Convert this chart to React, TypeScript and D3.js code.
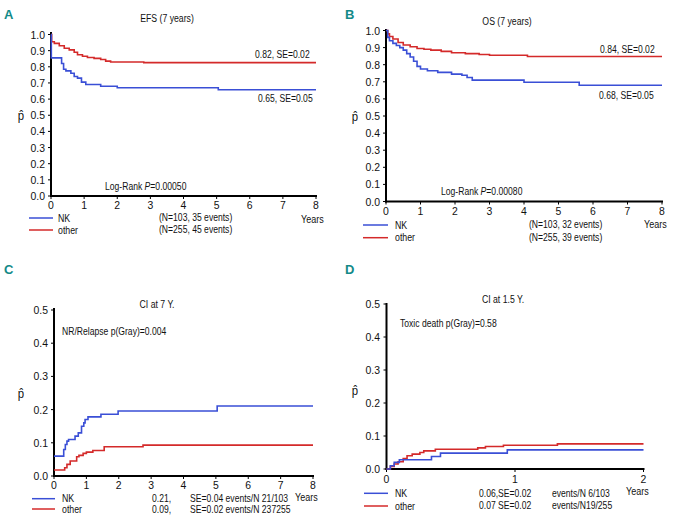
import React from "react";
import * as d3 from "d3";

// ---------- data ----------
const A_NK_t = [0, 0.01, 0.32, 0.38, 0.45, 0.6, 0.7, 0.8, 0.92, 1.05, 1.5, 2.0, 5.05, 8];
const A_NK_v = [1.0, 0.855, 0.82, 0.785, 0.775, 0.76, 0.74, 0.73, 0.705, 0.69, 0.68, 0.67, 0.658, 0.658];
const A_OT_t = [0, 0.02, 0.1, 0.25, 0.4, 0.55, 0.7, 0.8, 0.95, 1.1, 1.3, 1.5, 1.65, 1.8, 2.8, 8];
const A_OT_v = [1.0, 0.955, 0.945, 0.93, 0.915, 0.905, 0.89, 0.875, 0.865, 0.858, 0.852, 0.845, 0.835, 0.83, 0.826, 0.826];

const B_NK_t = [0, 0.05, 0.1, 0.2, 0.3, 0.4, 0.5, 0.6, 0.7, 0.8, 0.9, 1.0, 1.2, 1.5, 1.9, 2.2, 2.35, 2.5, 4.0, 5.6, 8];
const B_NK_v = [1, 0.96, 0.94, 0.925, 0.912, 0.9, 0.885, 0.865, 0.845, 0.82, 0.79, 0.775, 0.765, 0.755, 0.745, 0.738, 0.725, 0.71, 0.697, 0.68, 0.68];
const B_OT_t = [0, 0.05, 0.1, 0.2, 0.35, 0.5, 0.7, 0.9, 1.1, 1.3, 1.6, 1.9, 2.3, 2.7, 3.0, 4.1, 8];
const B_OT_v = [1, 0.98, 0.965, 0.95, 0.93, 0.915, 0.905, 0.895, 0.89, 0.885, 0.878, 0.87, 0.865, 0.86, 0.855, 0.848, 0.848];

const C_NK_t = [0, 0.3, 0.35, 0.4, 0.45, 0.65, 0.75, 0.85, 0.92, 0.96, 1.05, 1.45, 1.98, 5.04, 8];
const C_NK_v = [0.06, 0.08, 0.095, 0.105, 0.11, 0.12, 0.13, 0.15, 0.16, 0.17, 0.178, 0.186, 0.196, 0.211, 0.211];
const C_OT_t = [0, 0.33, 0.4, 0.5, 0.7, 0.77, 0.9, 1.0, 1.2, 1.55, 2.75, 8];
const C_OT_v = [0.018, 0.025, 0.035, 0.045, 0.058, 0.062, 0.068, 0.072, 0.077, 0.088, 0.093, 0.093];

const D_NK_t = [0, 0.03, 0.06, 0.1, 0.35, 0.42, 0.94, 2];
const D_NK_v = [0, 0.01, 0.02, 0.028, 0.038, 0.048, 0.058, 0.058];
const D_OT_t = [0, 0.03, 0.06, 0.09, 0.13, 0.16, 0.2, 0.26, 0.29, 0.38, 0.71, 0.77, 0.91, 1.33, 2];
const D_OT_v = [0, 0.008, 0.015, 0.022, 0.032, 0.04, 0.045, 0.05, 0.055, 0.06, 0.064, 0.068, 0.072, 0.076, 0.076];

const yTicks10 = [0, 0.1, 0.2, 0.3, 0.4, 0.5, 0.6, 0.7, 0.8, 0.9, 1.0];
const yTicks05 = [0, 0.1, 0.2, 0.3, 0.4, 0.5];
const xTicks8 = [0, 1, 2, 3, 4, 5, 6, 7, 8];
const xTicks2 = [0, 1, 2];

const BLUE = "#3a4fd6";
const RED = "#d42a2a";
const TEAL = "#138a88";
const FONT = "'Liberation Sans', Arial, sans-serif";

function T({
  x, y, sx = 0.86, size = 10, anchor = "start", children,
}: { x: number; y: number; sx?: number; size?: number; anchor?: string; children?: React.ReactNode }) {
  return (
    <text transform={`translate(${x},${y}) scale(${sx},1)`} fontSize={size} textAnchor={anchor as any} fontFamily={FONT} fill="#111">
      {children}
    </text>
  );
}

type PanelProps = {
  letter: string;
  letterX: number;
  letterY: number;
  xDom: number;
  xr: [number, number];
  yr: [number, number];
  yDom: number;
  yTicks: number[];
  xTicks: number[];
  axisTop: number;
  xLabelY: number;
  yLabelRight: number;
  nk: [number[], number[]];
  ot: [number[], number[]];
  title: string;
  titleX: number;
  titleY: number;
  phatX: number;
  phatY: number;
  yearsX: number;
  yearsY: number;
  children?: React.ReactNode;
};

function Panel(p: PanelProps) {
  const x = d3.scaleLinear().domain([0, p.xDom]).range(p.xr);
  const y = d3.scaleLinear().domain([0, p.yDom]).range(p.yr);
  const line = d3
    .line<[number, number]>()
    .x((d) => x(d[0]))
    .y((d) => y(d[1]))
    .curve(d3.curveStepAfter);
  const pts = (s: [number[], number[]]) => s[0].map((t, i) => [t, s[1][i]] as [number, number]);
  return (
    <g>
      <text x={p.letterX} y={p.letterY} fill={TEAL} fontWeight="bold" fontSize={13} fontFamily={FONT}>
        {p.letter}
      </text>
      <T x={p.titleX} y={p.titleY} anchor="middle" sx={0.87}>
        {p.title}
      </T>
      {/* y axis */}
      <line x1={p.xr[0]} x2={p.xr[0]} y1={p.axisTop} y2={p.yr[0] + 1} stroke="#000" strokeWidth={2} />
      {p.yTicks.map((t) => (
        <g key={"y" + t}>
          <line x1={p.xr[0] - 3} x2={p.xr[0]} y1={y(t)} y2={y(t)} stroke="#000" strokeWidth={1} />
          <T x={p.yLabelRight} y={y(t) + 4} anchor="end" size={11} sx={0.95}>
            {t.toFixed(1)}
          </T>
        </g>
      ))}
      {/* x axis */}
      <line x1={p.xr[0] - 1} x2={p.xr[1] + 1} y1={p.yr[0]} y2={p.yr[0]} stroke="#000" strokeWidth={2} />
      {p.xTicks.map((t) => (
        <g key={"x" + t}>
          <line x1={x(t)} x2={x(t)} y1={p.yr[0]} y2={p.yr[0] + 3} stroke="#000" strokeWidth={1} />
          <T x={x(t)} y={p.xLabelY} anchor="middle" size={11} sx={0.95}>
            {t}
          </T>
        </g>
      ))}
      <T x={p.yearsX} y={p.yearsY} size={11} sx={0.82}>
        Years
      </T>
      <T x={p.phatX} y={p.phatY} size={12} sx={0.95} anchor="middle">
        p̂
      </T>
      <path d={line(pts(p.ot)) || ""} fill="none" stroke={RED} strokeWidth={1.6} />
      <path d={line(pts(p.nk)) || ""} fill="none" stroke={BLUE} strokeWidth={1.6} />
      {p.children}
    </g>
  );
}

function Legend({ x1, x2, yNK, yOT, tx }: { x1: number; x2: number; yNK: number; yOT: number; tx: number }) {
  return (
    <g>
      <line x1={x1} x2={x2} y1={yNK} y2={yNK} stroke={BLUE} strokeWidth={1.5} />
      <line x1={x1} x2={x2} y1={yOT} y2={yOT} stroke={RED} strokeWidth={1.5} />
      <T x={tx} y={yNK + 3.5} sx={0.88}>NK</T>
      <T x={tx} y={yOT + 3.5} sx={0.88}>other</T>
    </g>
  );
}

export default function App() {
  return (
    <svg width={673} height={519} style={{ position: "absolute", left: 0, top: 0, background: "#fff" }}>
      <rect width={673} height={519} fill="#fff" />
      {/* Panel A */}
      <Panel
        letter="A" letterX={4} letterY={19}
        xDom={8} xr={[51, 316]} yr={[196, 34.5]} yDom={1} yTicks={yTicks10} xTicks={xTicks8}
        axisTop={32} xLabelY={209} yLabelRight={45}
        nk={[A_NK_t, A_NK_v]} ot={[A_OT_t, A_OT_v]}
        title="EFS (7 years)" titleX={167} titleY={22}
        phatX={21} phatY={120} yearsX={301} yearsY={223}
      >
        <T x={255} y={58}>0.82, SE=0.02</T>
        <T x={258} y={101.5}>0.65, SE=0.05</T>
        <T x={105} y={190}>Log-Rank <tspan fontStyle="italic">P</tspan>=0.00050</T>
        <T x={159} y={221}>(N=103, 35 events)</T>
        <T x={159} y={233}>(N=255, 45 events)</T>
      </Panel>
      <Legend x1={29} x2={53} yNK={218} yOT={230} tx={58} />

      {/* Panel B */}
      <Panel
        letter="B" letterX={345} letterY={19}
        xDom={8} xr={[386, 662]} yr={[201.5, 30.5]} yDom={1} yTicks={yTicks10} xTicks={xTicks8}
        axisTop={29} xLabelY={215} yLabelRight={380}
        nk={[B_NK_t, B_NK_v]} ot={[B_OT_t, B_OT_v]}
        title="OS (7 years)" titleX={507} titleY={25}
        phatX={355} phatY={121} yearsX={644} yearsY={228}
      >
        <T x={600} y={52.5}>0.84, SE=0.02</T>
        <T x={599} y={98.7}>0.68, SE=0.05</T>
        <T x={441} y={195}>Log-Rank <tspan fontStyle="italic">P</tspan>=0.00080</T>
        <T x={529} y={228}>(N=103, 32 events)</T>
        <T x={529} y={240.5}>(N=255, 39 events)</T>
      </Panel>
      <Legend x1={363} x2={388} yNK={225} yOT={237.7} tx={395} />

      {/* Panel C */}
      <Panel
        letter="C" letterX={4} letterY={274}
        xDom={8} xr={[54, 313]} yr={[476, 310]} yDom={0.5} yTicks={yTicks05} xTicks={xTicks8}
        axisTop={308} xLabelY={489} yLabelRight={48}
        nk={[C_NK_t, C_NK_v]} ot={[C_OT_t, C_OT_v]}
        title="CI at 7 Y." titleX={157} titleY={308}
        phatX={21} phatY={398} yearsX={295} yearsY={501}
      >
        <T x={62} y={335}>NR/Relapse p(Gray)=0.004</T>
        <T x={152} y={501.7}>0.21,</T>
        <T x={190} y={501.7}>SE=0.04 events/N 21/103</T>
        <T x={152} y={512.5}>0.09,</T>
        <T x={190} y={512.5}>SE=0.02 events/N 237255</T>
      </Panel>
      <Legend x1={32} x2={55} yNK={498.7} yOT={509} tx={62} />

      {/* Panel D */}
      <Panel
        letter="D" letterX={345} letterY={274}
        xDom={2} xr={[386.5, 643.5]} yr={[469, 304]} yDom={0.5} yTicks={yTicks05} xTicks={xTicks2}
        axisTop={303} xLabelY={483} yLabelRight={380}
        nk={[D_NK_t, D_NK_v]} ot={[D_OT_t, D_OT_v]}
        title="CI at 1.5 Y." titleX={503} titleY={303}
        phatX={355} phatY={395} yearsX={626} yearsY={495}
      >
        <T x={400} y={327}>Toxic death p(Gray)=0.58</T>
        <T x={479} y={496.7}>0.06,SE=0.02</T>
        <T x={552} y={496.7}>events/N 6/103</T>
        <T x={479} y={509}>0.07 SE=0.02</T>
        <T x={552} y={509}>events/N19/255</T>
      </Panel>
      <Legend x1={364} x2={388} yNK={493.3} yOT={506} tx={395} />
    </svg>
  );
}
